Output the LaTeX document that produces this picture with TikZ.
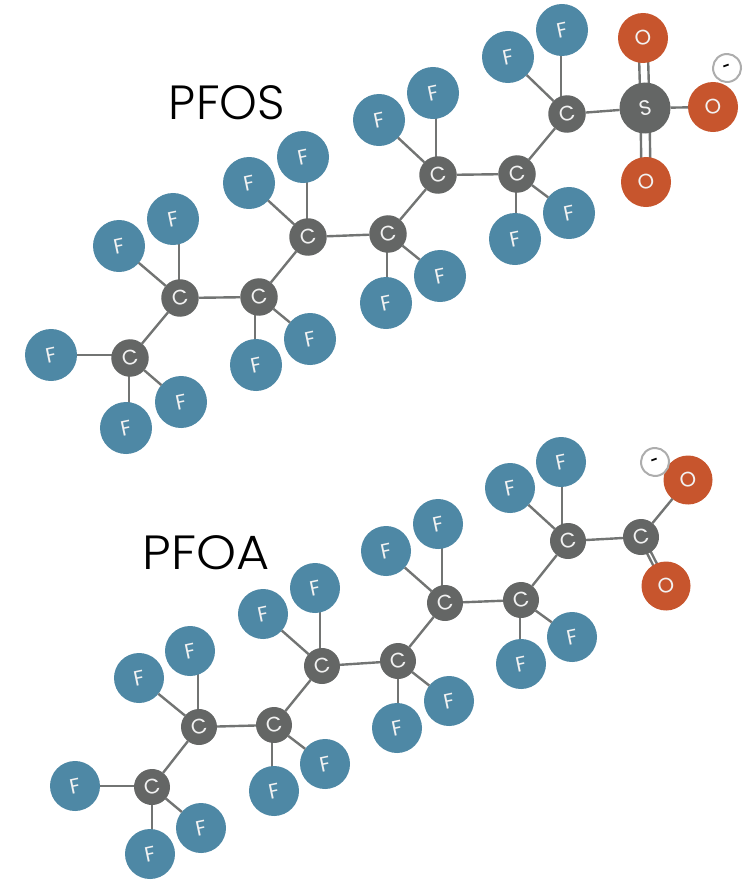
\documentclass[tikz,border=0pt]{standalone}
\usepackage{fontspec}
\setmainfont{Poppins}
\newfontfamily\lightfont{Poppins Light}
\usetikzlibrary{backgrounds}
\definecolor{fblue}{HTML}{4E88A5}
\definecolor{ored}{HTML}{C7552D}
\definecolor{cgrey}{HTML}{646665}
\definecolor{bondgrey}{HTML}{727473}
\definecolor{ringgrey}{HTML}{ADADAD}
\definecolor{labelwhite}{HTML}{F2F2F2}
\tikzset{
  atom/.style={circle,inner sep=0pt,outer sep=0pt,text=labelwhite,font=\fontsize{21}{21}\selectfont,rotate=12},
  fa/.style={atom,fill=fblue,minimum size=52pt},
  fb/.style={atom,fill=fblue,minimum size=50pt},
  oa/.style={atom,fill=ored,minimum size=50pt},
  ob/.style={atom,fill=ored,minimum size=49pt},
  ca/.style={atom,fill=cgrey,minimum size=37.5pt},
  cb/.style={atom,fill=cgrey,minimum size=36pt},
  sa/.style={atom,fill=cgrey,minimum size=51pt},
  charge/.style={circle,draw=ringgrey,line width=2pt,fill=white,inner sep=0pt,outer sep=0pt,minimum size=28pt,font=\fontsize{13}{13}\selectfont\bfseries,text=black,rotate=20},
  bond/.style={draw=bondgrey,line width=2.4pt},
  title/.style={inner sep=0pt,text=black,font=\lightfont\fontsize{48}{48}\selectfont}
}
% vertical bond from a carbon to a fluorine, behind both nodes, with x offset
\newcommand{\vbond}[3]{\begin{scope}[on background layer]\draw[bond] ([xshift=#3pt]#1.center) -- ([xshift=#3pt]#1.center |- #2.center);\end{scope}}
\newcommand{\hbond}[2]{\begin{scope}[on background layer]\draw[bond] (#1.center) -- (#1.center -| #2.center);\end{scope}}
% double bond: two parallel lines behind the nodes, offset by +-(dx,dy)
\newcommand{\dblbond}[4]{\begin{scope}[on background layer]
\draw[bond] ([shift={(#3pt,#4pt)}]#1.center) -- ([shift={(#3pt,#4pt)}]#2.center);
\draw[bond] ([shift={(-#3pt,-#4pt)}]#1.center) -- ([shift={(-#3pt,-#4pt)}]#2.center);
\end{scope}}
\begin{document}
\begin{tikzpicture}[x=1pt,y=-1pt]
\useasboundingbox (0,0) rectangle (749,880);
% ---------- PFOS
\node[title] (tS) at (227,103) {PFOS};
\node[ca] (a1) at (130,358) {C};
\node[ca] (a2) at (180,298) {C};
\node[ca] (a3) at (259,297) {C};
\node[ca] (a4) at (308,237) {C};
\node[ca] (a5) at (388,234) {C};
\node[ca] (a6) at (438,175) {C};
\node[ca] (a7) at (517,174) {C};
\node[ca] (a8) at (567,114) {C};
\node[sa] (aS) at (645,108) {S};
\node[oa] (aO1) at (643,38) {O};
\node[oa] (aO2) at (713,107) {O};
\node[oa] (aO3) at (646,182) {O};
\node[charge] (aQ) at (727,68) {-};
\node[fa] (f1a) at (51,355) {F};
\node[fa] (f1b) at (126,428) {F};
\node[fa] (f1c) at (181,402) {F};
\node[fa] (f2a) at (119,246) {F};
\node[fa] (f2b) at (173,219) {F};
\node[fa] (f3a) at (256,365) {F};
\node[fa] (f3b) at (310,339) {F};
\node[fa] (f4a) at (249,183) {F};
\node[fa] (f4b) at (303,157) {F};
\node[fa] (f5a) at (386,303) {F};
\node[fa] (f5b) at (440,276) {F};
\node[fa] (f6a) at (379,120) {F};
\node[fa] (f6b) at (433,93) {F};
\node[fa] (f7a) at (515,239) {F};
\node[fa] (f7b) at (569,213) {F};
\node[fa] (f8a) at (508,57) {F};
\node[fa] (f8b) at (562,30) {F};
\draw[bond] (a1)--(a2) (a2)--(a3) (a3)--(a4) (a4)--(a5) (a5)--(a6) (a6)--(a7) (a7)--(a8) (a8)--(aS) (aS)--(aO2);
\dblbond{aS}{aO1}{4.5}{0}
\dblbond{aS}{aO3}{4.5}{0}
\draw[bond] (a1)--(f1c) (a2)--(f2a) (a3)--(f3b) (a4)--(f4a) (a5)--(f5b) (a6)--(f6a) (a7)--(f7b) (a8)--(f8a);
\hbond{f1a}{a1}
\vbond{a1}{f1b}{-1}
\vbond{a2}{f2b}{-1}
\vbond{a3}{f3a}{-4}
\vbond{a4}{f4b}{-1}
\vbond{a5}{f5a}{-1}
\vbond{a6}{f6b}{-2}
\vbond{a7}{f7a}{-1}
\vbond{a8}{f8b}{-6}
% ---------- PFOA
\node[title,xscale=1.06] (tA) at (206,553) {PFOA};
\node[cb] (b1) at (152,787) {C};
\node[cb] (b2) at (199,727) {C};
\node[cb] (b3) at (274,725) {C};
\node[cb] (b4) at (322,666) {C};
\node[cb] (b5) at (398,661) {C};
\node[cb] (b6) at (445,603) {C};
\node[cb] (b7) at (521,600) {C};
\node[cb] (b8) at (568,541) {C};
\node[cb] (b9) at (641,537) {C};
\node[ob] (bO1) at (688,480) {O};
\node[ob] (bO2) at (666,586) {O};
\node[charge] (bQ) at (655,462) {-};
\node[fb] (g1a) at (75,786) {F};
\node[fb] (g1b) at (150,854) {F};
\node[fb] (g1c) at (201,828) {F};
\node[fb] (g2a) at (139,678) {F};
\node[fb] (g2b) at (190,651) {F};
\node[fb] (g3a) at (274,791) {F};
\node[fb] (g3b) at (325,764) {F};
\node[fb] (g4a) at (263,614) {F};
\node[fb] (g4b) at (315,588) {F};
\node[fb] (g5a) at (397,728) {F};
\node[fb] (g5b) at (449,701) {F};
\node[fb] (g6a) at (386,551) {F};
\node[fb] (g6b) at (438,524) {F};
\node[fb] (g7a) at (521,664) {F};
\node[fb] (g7b) at (572,637) {F};
\node[fb] (g8a) at (510,488) {F};
\node[fb] (g8b) at (561,462) {F};
\draw[bond] (b1)--(b2) (b2)--(b3) (b3)--(b4) (b4)--(b5) (b5)--(b6) (b6)--(b7) (b7)--(b8) (b8)--(b9) (b9)--(bO1);
\dblbond{b9}{bO2}{3.1}{-1.6}
\draw[bond] (b1)--(g1c) (b2)--(g2a) (b3)--(g3b) (b4)--(g4a) (b5)--(g5b) (b6)--(g6a) (b7)--(g7b) (b8)--(g8a);
\hbond{g1a}{b1}
\vbond{b1}{g1b}{0}
\vbond{b2}{g2b}{-1}
\vbond{b3}{g3a}{-2}
\vbond{b4}{g4b}{-2}
\vbond{b5}{g5a}{0}
\vbond{b6}{g6b}{-3}
\vbond{b7}{g7a}{-1}
\vbond{b8}{g8b}{-6}
\end{tikzpicture}
\end{document}
